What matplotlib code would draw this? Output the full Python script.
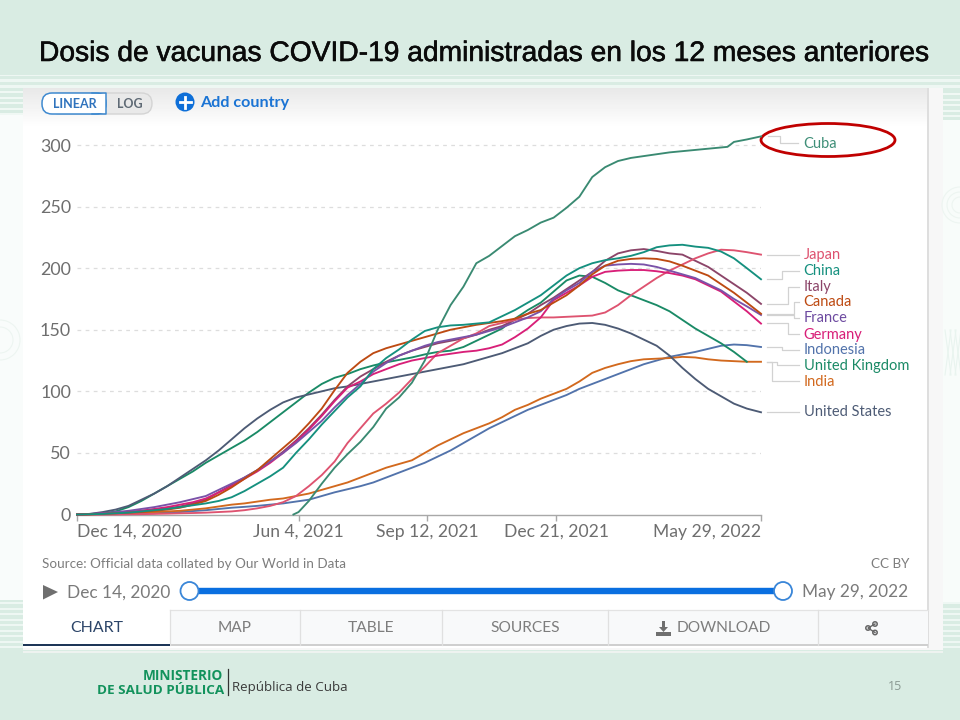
import numpy as np
import matplotlib
matplotlib.use("Agg")
import matplotlib.pyplot as plt
import matplotlib.patheffects as pe
from matplotlib.patches import Rectangle, FancyBboxPatch, Ellipse, Circle, Polygon, Arc

# days since Dec 14, 2020
days = [0, 10, 20, 30, 40, 50, 60, 70, 80, 90,
        100, 110, 120, 130, 140, 150, 160, 170, 180, 190,
        200, 210, 220, 230, 240, 250, 260, 270, 280, 290,
        300, 310, 320, 330, 340, 350, 360, 370, 380, 390,
        400, 410, 420, 430, 440, 450, 460, 470, 480, 490,
        500, 510, 520, 531]
days_cuba = [168, 172, 180, 190,
             200, 210, 220, 230, 240, 250, 260, 270, 280, 290,
             300, 310, 320, 330, 340, 350, 360, 370, 380, 390,
             400, 410, 420, 430, 440, 450, 460, 470, 480, 490,
             500, 505, 510, 520, 531]
days_uk = days[:-1]

cuba = [0, 2, 11, 25,
        38, 49, 59, 71, 86, 95, 107, 125, 150, 170,
        185, 204, 210, 218, 226, 231, 237, 241, 249, 258,
        274, 282, 287, 289.5, 291, 292.5, 294, 295, 296, 297,
        298, 298.5, 302.5, 304.5, 307]
japan = [0, 0, 0, 0, 0.2, 0.3, 0.5, 0.7, 1, 1.2,
         1.5, 2, 2.5, 3.5, 5, 7, 10, 15, 23, 32,
         43, 58, 70, 82, 90, 99, 110, 120, 131, 137,
         143, 147, 153, 155.5, 158, 159.5, 160, 160, 160.5, 161,
         161.5, 164, 170, 178, 185, 192, 198, 203, 208, 212,
         215, 214.5, 213, 211]
china = [0, 0.2, 0.5, 1, 1.5, 2.5, 3.5, 4.5, 6, 7.5,
         9, 11, 14, 19, 25, 31, 38, 50, 61, 73,
         84, 95, 104, 118, 127, 134, 142, 149, 152, 153.5,
         154, 155, 156, 161, 166, 172, 178, 186, 194, 200,
         204, 206.5, 208, 210, 213, 217, 218.5, 219, 217.5, 216.5,
         213.5, 208, 200, 191]
italy = [0, 0.3, 0.8, 1.3, 2, 3, 4, 5, 6.5, 9,
         12, 18, 24, 30, 36, 43, 51, 60, 70, 81,
         93, 104, 112, 118, 124, 129, 133, 136, 139, 141,
         143, 146, 150, 153, 158, 163, 170, 176, 183, 190,
         197, 206, 212, 214.5, 215.5, 214, 212, 211, 206, 201,
         194, 187, 180, 171]
canada = [0, 0.2, 0.5, 1, 1.5, 2, 3, 4, 5.5, 8,
          11, 16, 22, 29, 36, 45, 54, 63, 74, 86,
          101, 115, 124, 131, 135, 138, 141, 144, 147, 150,
          152, 154, 155.5, 157, 159, 163, 166, 172, 178, 186,
          195, 202, 206, 207.5, 208, 207.5, 205.5, 202, 198, 194,
          187, 180, 172, 163]
france = [0, 0.5, 1, 2, 3, 4.5, 6, 8, 10, 12.5,
          15, 20, 25, 30, 36, 43, 50, 58, 67, 76,
          87, 97, 106, 116, 123, 129, 133, 137, 140, 142,
          144, 146, 149, 152, 156, 160, 165, 175, 182, 188,
          197, 202, 203, 203.5, 203, 201, 198, 195, 192, 187,
          182, 175, 169, 162]
germany = [0, 0.3, 0.8, 1.4, 2, 3, 4.5, 6, 8, 10,
           13, 18, 23, 29, 35, 42, 50, 59, 69, 80,
           92, 103, 108, 114, 118, 122, 125, 127, 129, 130.5,
           132, 133, 135, 138, 144, 151, 160, 174, 180, 186,
           193, 197, 198, 198.5, 198.5, 197.5, 196, 194, 191, 186,
           181, 173, 165, 155]
indonesia = [0, 0.1, 0.2, 0.4, 0.5, 0.8, 1, 1.5, 2, 2.8,
             3.5, 4.5, 5.5, 6.2, 7, 8, 9, 10.5, 12, 15,
             18, 20.5, 23, 26, 30, 34, 38, 42, 47, 52,
             58, 64, 70, 75, 80, 85, 89, 93, 97, 102,
             106, 110, 114, 118, 122, 125, 128, 130, 132, 134.5,
             137, 138, 137.5, 136]
united_kingdom = [0, 0.3, 1, 2.5, 6, 11, 17, 23, 29, 35,
                  42, 48, 54, 60, 67, 75, 83, 91, 99, 106,
                  111, 114, 118, 121, 123.5, 125.5, 127.5, 130, 132, 133,
                  136, 141, 146, 151, 159, 166, 172, 181, 190, 194,
                  193, 188, 182, 178, 174, 170, 165, 158, 151, 145,
                  139, 132, 124]
india = [0, 0.1, 0.3, 0.6, 1, 1.5, 2, 2.5, 3, 4,
         5, 6.5, 8, 9, 10.5, 12, 13, 15, 17, 20,
         23, 26, 30, 34, 38, 41, 44, 50, 56, 61,
         66, 70, 74, 79, 85, 89, 94, 98, 102, 108,
         115, 119, 122, 124.5, 126, 126.5, 127, 128, 127.5, 126,
         125, 124.5, 124, 124]
united_states = [0, 0.5, 2, 4, 7, 12, 17, 23, 30, 37,
                 44, 52, 61, 70, 78, 85, 91, 95, 97.5, 100,
                 102.5, 104, 106, 108, 110, 112, 114, 116, 118, 120,
                 122, 125, 128, 131, 135, 139, 145, 150, 153, 155,
                 155.5, 154, 151, 147, 142, 137, 129, 119, 110, 102,
                 96, 90, 86, 83]

y_ticks = [0, 50, 100, 150, 200, 250, 300]
x_ticks = [0, 172, 272, 372, 531]
x_tick_labels = ["Dec 14, 2020", "Jun 4, 2021", "Sep 12, 2021", "Dec 21, 2021", "May 29, 2022"]

GRAY = "#6e6e6e"
MINT = "#d9ece3"
CHART_FONT = ["Lato", "DejaVu Sans"]
FOOT_FONT = ["Open Sans", "DejaVu Sans"]

fig = plt.figure(figsize=(9.6, 7.2), dpi=100, facecolor=MINT)

# whole-slide layer, coordinates in pixels
bg = fig.add_axes([0, 0, 1, 1], zorder=0)
bg.set_xlim(0, 960)
bg.set_ylim(720, 0)
bg.axis("off")


def rect(x0, y0, x1, y1, color, ax=bg, z=1, **kw):
    ax.add_patch(Rectangle((x0, y0), x1 - x0, y1 - y0, facecolor=color, edgecolor="none", zorder=z, **kw))


def label(x, y, s, size=9.5, color=GRAY, ha="left", weight="normal", family=CHART_FONT, z=6):
    return bg.text(x, y, s, fontsize=size, color=color, ha=ha, va="center", fontweight=weight, family=family, zorder=z)


# stripes and side panels
for y0, y1 in [(74.5, 76), (79, 81.5), (85, 88)]:
    rect(0, y0, 960, y1, "#eef7f3")
rect(0, 115, 23, 600, "#f9fcfb")
rect(943, 120, 960, 603, "#f8fcfa")
for y0 in np.arange(91, 116, 5.5):
    rect(0, y0, 23, y0 + 2.4, "#f0f8f4")
    rect(943, y0 + 2, 960, y0 + 4.4, "#f0f8f4")
for y0 in np.arange(602, 650, 5.5):
    rect(0, y0, 23, y0 + 2.4, "#eef7f3")
    rect(943, y0, 960, y0 + 2.4, "#eef7f3")

# faint ornament on the side panels
for cx, cy, r in [(960, 205, 18), (960, 205, 13), (960, 205, 8), (0, 340, 20), (0, 340, 13)]:
    bg.add_patch(Arc((cx, cy), 2 * r, 2 * r, edgecolor="#edf5f1", lw=0.8, zorder=2))
for x in (945, 950, 955):
    bg.plot([x, x + 6], [330, 375], color="#e9f4ef", lw=0.8, zorder=2)
    bg.plot([x + 6, x], [330, 375], color="#e9f4ef", lw=0.8, zorder=2)

# chart card
rect(23, 88, 943, 650, "#f7f7f7")
rect(23, 88, 928, 648, "white", z=2)
rect(927, 88, 929, 648, "#dedede", z=3)
rect(23, 651, 943, 652.5, "#eef3f0", z=2)
grad = np.linspace(0.91, 1, 40).reshape(-1, 1)
bg.imshow(grad, extent=(23, 927, 128, 88), cmap="gray", vmin=0, vmax=1, aspect="auto", zorder=2.5)
bg.set_xlim(0, 960)
bg.set_ylim(720, 0)

# title
title = label(485, 54, "Dosis de vacunas COVID-19 administradas en los 12 meses anteriores",
              size=20.3, color="#0a0a0a", ha="center", family=["Liberation Sans"])
title.set_path_effects([pe.withStroke(linewidth=0.4, foreground="#0a0a0a")])

# linear / log toggle
bg.add_patch(FancyBboxPatch((49, 93), 103, 21, boxstyle="round,pad=0,rounding_size=10.5", mutation_aspect=1,
                            facecolor="#e9e9e9", edgecolor="#d4d4d4", lw=1, zorder=4))
bg.add_patch(FancyBboxPatch((42, 93), 64, 21, boxstyle="round,pad=0,rounding_size=10", facecolor="white",
                            edgecolor="#3f8ad0", lw=1.1, zorder=4.2))
rect(92, 93.6, 106, 113.4, "white", z=4.3)
bg.plot([92, 106, 106, 92], [93, 93, 114, 114], color="#3f8ad0", lw=1.1, zorder=4.4)
label(74.5, 104, "LINEAR", size=9, color="#2f73bd", ha="center", weight="bold")
label(130, 104, "LOG", size=9, color="#5f6a75", ha="center", weight="bold")
bg.add_patch(Circle((185, 102), 9.5, facecolor="#0e6fd8", edgecolor="none", zorder=5))
bg.plot([179.5, 190.5], [102, 102], color="white", lw=2, zorder=6)
bg.plot([185, 185], [96.5, 107.5], color="white", lw=2, zorder=6)
label(200, 103, "Add country", size=11.6, color="#1b74d4", weight="bold")

# the plot itself
y_per_px = 300 / 369.5
ax = fig.add_axes([77 / 960, 1 - 514.5 / 720, 684 / 960, 384.5 / 720], zorder=3)
ax.patch.set_alpha(0)
ax.set_xlim(0, 531)
ax.set_ylim(0, 384.5 * y_per_px)

for v in y_ticks[1:]:
    ax.plot([0, 531], [v, v], color="#dddddd", lw=0.9, ls=(0, (3, 3.5)), zorder=1)

series = [
    (days, indonesia, "#5273ab"),
    (days, india, "#d2691e"),
    (days_uk, united_kingdom, "#1a8a66"),
    (days, united_states, "#4d5b75"),
    (days, italy, "#8c4569"),
    (days, japan, "#de5370"),
    (days, germany, "#d81f78"),
    (days, france, "#7a52a8"),
    (days, canada, "#bd4a12"),
    (days, china, "#15907f"),
    (days_cuba, cuba, "#3a8a72"),
]
for xs, ys, color in series:
    ax.plot(xs, ys, color=color, lw=1.35, solid_joinstyle="round", zorder=3, clip_on=False)

for s in ("top", "left", "right"):
    ax.spines[s].set_visible(False)
ax.spines["bottom"].set_color("#a8a8a8")
ax.spines["bottom"].set_linewidth(1)
ax.set_yticks(y_ticks)
ax.set_xticks(x_ticks)
ax.set_xticklabels(x_tick_labels)
ax.tick_params(axis="y", length=0, pad=4.3, labelsize=12.9, labelcolor=GRAY)
ax.tick_params(axis="x", length=4, width=1, color="#a8a8a8", pad=2.5, labelsize=12.6, labelcolor=GRAY)
for t in ax.get_yticklabels() + ax.get_xticklabels():
    t.set_family(CHART_FONT)
ax.get_xticklabels()[0].set_ha("left")
ax.get_xticklabels()[-1].set_ha("right")

# end labels with their connector lines
end_labels = [
    ("Cuba", 143.5, "#3f8f78", [(768, 136), (780, 136), (780, 143), (798, 143)]),
    ("Japan", 255.5, "#de5370", [(767, 255), (799, 255)]),
    ("China", 271, "#15907f", [(767, 279), (782, 279), (782, 270.5), (799, 270.5)]),
    ("Italy", 287, "#8c4569", [(767, 304), (788, 304), (788, 287), (799, 287)]),
    ("Canada", 302.5, "#bd4a12", [(767, 314), (794, 314), (794, 302), (799, 302)]),
    ("France", 318.5, "#6d4aa0", [(767, 315), (794, 315), (794, 318), (799, 318)]),
    ("Germany", 334.5, "#d81f78", [(767, 323), (788, 323), (788, 334), (799, 334)]),
    ("Indonesia", 350.5, "#5273ab", [(767, 347), (782, 347), (782, 350), (799, 350)]),
    ("United Kingdom", 366, "#1a8a66", [(767, 362), (777, 362), (777, 365), (799, 365)]),
    ("India", 381.5, "#d2691e", [(767, 362), (772, 362), (772, 381), (799, 381)]),
    ("United States", 412, "#4d5b75", [(767, 412), (799, 412)]),
]
for name, y, color, pts in end_labels:
    bg.plot([p[0] for p in pts], [p[1] for p in pts], color="#d2d2d2", lw=0.9, zorder=4)
    label(803.5, y, name, size=10.5, color=color)

bg.add_patch(Ellipse((828, 140), 134, 33, facecolor="none", edgecolor="#c00000", lw=2, zorder=7))

# footer of the card
label(42, 564, "Source: Official data collated by Our World in Data", size=9.7, color="#7d7d7d")
label(909, 564, "CC BY", size=9.7, color="#7d7d7d", ha="right")
bg.add_patch(Polygon([(43, 585), (43, 599.5), (58, 592)], facecolor="#6f6f6f", edgecolor="none", zorder=5))
label(67, 592.5, "Dec 14, 2020", size=12.4, color="#7a7a7a")
label(908, 592.5, "May 29, 2022", size=12.4, color="#7a7a7a", ha="right")
bg.plot([190, 783], [591, 591], color="#0a6fe0", lw=4.6, solid_capstyle="butt", zorder=5)
for hx in (189.5, 783):
    bg.add_patch(Circle((hx, 591), 9, facecolor="white", edgecolor="#3a86d8", lw=1.3, zorder=6))

# tabs
tab_edges = [170, 300, 442, 608, 818, 928]
rect(170, 610, 928, 645, "#f8f9fa", z=3)
rect(23, 644, 928, 646, "#cfcfcf", z=3)
bg.plot([170, 928], [610, 610], color="#e3e3e3", lw=0.9, zorder=4)
for x in tab_edges[:-1]:
    bg.plot([x, x], [610, 645], color="#e0e0e0", lw=0.9, zorder=4)
rect(23, 643.5, 170, 646, "#1d3557", z=4)
label(96.5, 628, "CHART", size=11.4, color="#2b4468", ha="center")
label(235, 628, "MAP", size=11.2, color="#7d7d7d", ha="center")
label(371, 628, "TABLE", size=11.2, color="#7d7d7d", ha="center")
label(525, 628, "SOURCES", size=11.2, color="#7d7d7d", ha="center")
label(724, 628, "DOWNLOAD", size=11.2, color="#7d7d7d", ha="center")
# download icon
bg.add_patch(Polygon([(662, 621), (665, 621), (665, 627), (668, 627), (663.5, 632), (659, 627), (662, 627)],
                     facecolor="#6f6f6f", edgecolor="none", zorder=5))
rect(656, 632, 671, 636, "#6f6f6f", z=5)
# share icon
for px, py in [(868, 628), (875, 624), (875, 632.5)]:
    bg.add_patch(Circle((px, py), 2.2, facecolor="none", edgecolor="#666666", lw=1.1, zorder=5))
bg.plot([875, 868, 875], [624, 628, 632.5], color="#666666", lw=1, zorder=5)

# slide footer
label(223, 676, "MINISTERIO", size=9.8, color="#12925c", ha="right", weight="bold", family=FOOT_FONT)
label(224.5, 690.5, "DE SALUD PÚBLICA", size=9.7, color="#12925c", ha="right", weight="bold", family=FOOT_FONT)
bg.plot([227.5, 227.5], [669, 695], color="#333333", lw=0.9, zorder=5)
label(232, 688, "República de Cuba", size=9.6, color="#3a3a3a", family=FOOT_FONT)
label(895, 687, "15", size=9, color="#8b9a93", ha="center", family=FOOT_FONT)

fig.savefig("out.png", dpi=100, facecolor=MINT)
